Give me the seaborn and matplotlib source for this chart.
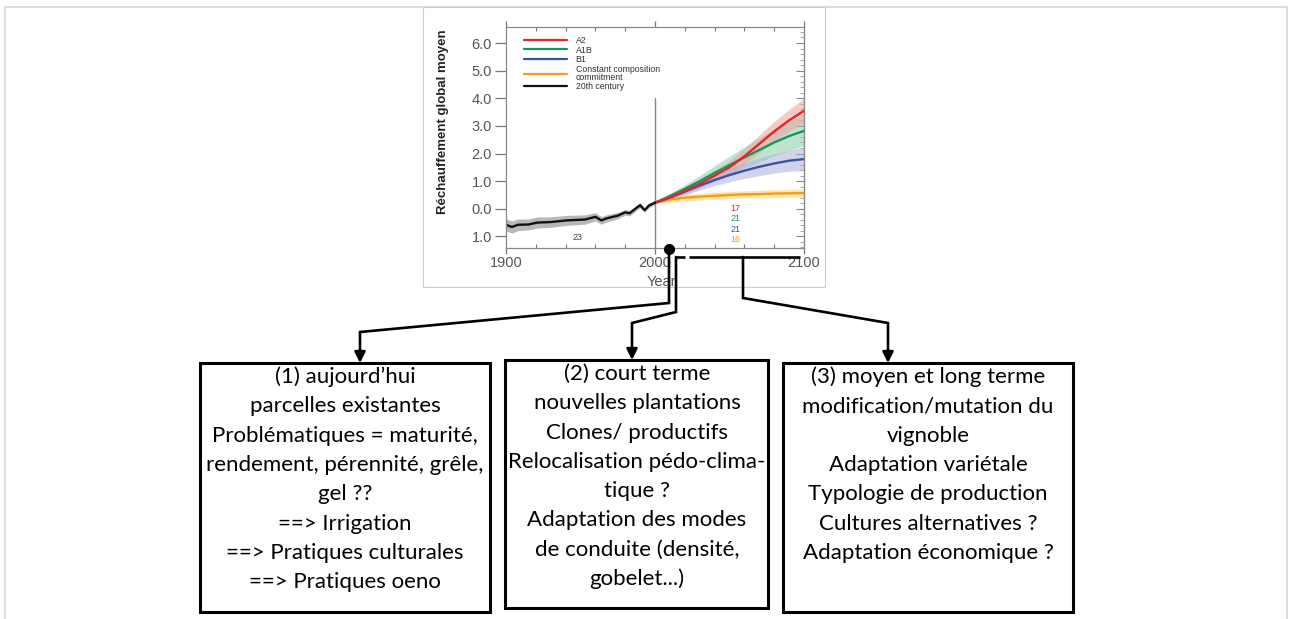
import numpy as np
import pandas as pd
import matplotlib
matplotlib.use("Agg")
import matplotlib.pyplot as plt
import seaborn as sns
from matplotlib.patches import Rectangle
from matplotlib.lines import Line2D
from matplotlib.ticker import FixedLocator, FixedFormatter, MultipleLocator

# ---------------- data ----------------
hist_years = [1900, 1904, 1908, 1915, 1921, 1930, 1941, 1953, 1960, 1964, 1968,
              1975, 1980, 1983, 1988, 1990, 1993, 1996, 2000]
hist_values = [-0.58, -0.66, -0.58, -0.57, -0.50, -0.48, -0.42, -0.39, -0.29, -0.42,
               -0.34, -0.25, -0.13, -0.16, 0.05, 0.13, -0.05, 0.12, 0.22]
hist_spread = [0.22, 0.22, 0.21, 0.2, 0.2, 0.19, 0.18, 0.17, 0.15, 0.14, 0.13,
               0.12, 0.1, 0.1, 0.09, 0.09, 0.08, 0.08, 0.07]

proj_years = [2000, 2010, 2020, 2030, 2040, 2050, 2060, 2070, 2080, 2090, 2100]
a2_values = [0.22, 0.42, 0.65, 0.90, 1.20, 1.50, 1.90, 2.35, 2.80, 3.20, 3.55]
a1b_values = [0.22, 0.46, 0.72, 1.00, 1.30, 1.58, 1.86, 2.13, 2.40, 2.63, 2.82]
b1_values = [0.22, 0.40, 0.62, 0.84, 1.04, 1.22, 1.38, 1.52, 1.64, 1.74, 1.80]
cc_values = [0.22, 0.33, 0.40, 0.44, 0.47, 0.50, 0.52, 0.53, 0.55, 0.56, 0.57]
a2_spread = [0.02, 0.08, 0.12, 0.16, 0.2, 0.24, 0.28, 0.32, 0.36, 0.40, 0.45]
a1b_spread = [0.02, 0.1, 0.15, 0.2, 0.26, 0.32, 0.38, 0.44, 0.48, 0.52, 0.55]
b1_spread = [0.02, 0.08, 0.12, 0.16, 0.2, 0.24, 0.28, 0.32, 0.35, 0.38, 0.42]
cc_spread = [0.02, 0.1, 0.12, 0.12, 0.13, 0.13, 0.13, 0.14, 0.14, 0.14, 0.15]

series_names = ["A2", "A1B", "B1", "Constant composition\ncommitment", "20th century"]
series_colors = ["#e4252a", "#14975f", "#3b52a3", "#f39a1f", "#111111"]
band_colors = ["#f2a09c", "#86cfa8", "#aeb0d9", "#f8d56a", "#9a9a9a"]
model_counts = ["17", "21", "21", "16"]
hist_count = "23"

ytick_values = [-1, 0, 1, 2, 3, 4, 5, 6]
ytick_labels = ["1.0", "0.0", "1.0", "2.0", "3.0", "4.0", "5.0", "6.0"]
xtick_values = [1900, 2000, 2100]
xtick_labels = ["1900", "2000", "2100"]
y_label = "Réchauffement global moyen"
x_label = "Year"

box1_lines = ["(1) aujourd’hui", "parcelles existantes", "Problématiques = maturité,",
              "rendement, pérennité, grêle,", "gel ??", "==> Irrigation",
              "==> Pratiques culturales", "==> Pratiques oeno"]
box2_lines = ["(2) court terme", "nouvelles plantations", "Clones/ productifs",
              "Relocalisation pédo-clima-", "tique ?", "Adaptation des modes",
              "de conduite (densité,", "gobelet...)"]
box3_lines = ["(3) moyen et long terme", "modification/mutation du", "vignoble",
              "Adaptation variétale", "Typologie de production", "Cultures alternatives ?",
              "Adaptation économique ?"]

# ---------------- figure ----------------
sns.set_style("white")
plt.rcParams["font.family"] = ["Liberation Sans", "DejaVu Sans"]

W, H = 1290, 619
fig = plt.figure(figsize=(W / 100, H / 100), dpi=100)

def frac(x0, y0, x1, y1):
    return [x0 / W, 1 - y1 / H, (x1 - x0) / W, (y1 - y0) / H]

ax = fig.add_axes(frac(506, 27, 804, 248))

rows = []
proj_sets = [a2_values, a1b_values, b1_values, cc_values]
for name, vals in zip(series_names[:4], proj_sets):
    for yr, v in zip(proj_years, vals):
        rows.append({"year": yr, "value": v, "series": name})
for yr, v in zip(hist_years, hist_values):
    rows.append({"year": yr, "value": v, "series": series_names[4]})
df = pd.DataFrame(rows)

# bands
spreads = [a2_spread, a1b_spread, b1_spread, cc_spread]
for i in [1, 0, 2, 3]:
    v = np.array(proj_sets[i]); s = np.array(spreads[i])
    ax.fill_between(proj_years, v - s, v + s, color=band_colors[i], alpha=0.55, lw=0)
hv = np.array(hist_values); hs = np.array(hist_spread)
ax.fill_between(hist_years, hv - hs, hv + hs, color=band_colors[4], alpha=0.7, lw=0)

palette = dict(zip(series_names, series_colors))
sns.lineplot(data=df, x="year", y="value", hue="series",
             hue_order=[series_names[i] for i in [3, 2, 1, 0, 4]],
             palette=palette, estimator=None, linewidth=1.7, legend=False, ax=ax)

ax.set_xlim(1900, 2100)
ax.set_ylim(-1.42, 6.58)
ax.plot([2000, 2000], [-1.42, 4.0], color="#888888", lw=1.0, zorder=1)

# counts
for txt, col, yv in zip(model_counts, series_colors[:4], [0.0, -0.37, -0.76, -1.1]):
    ax.text(2054, yv, txt, color=col, fontsize=6.5, ha="center", va="center")
ax.text(1948, -1.05, hist_count, color="#444444", fontsize=6.5, ha="center", va="center")

# axes styling
for sp in ax.spines.values():
    sp.set_color("#888888"); sp.set_linewidth(0.9)
ax.yaxis.set_major_locator(FixedLocator(ytick_values))
ax.yaxis.set_major_formatter(FixedFormatter(ytick_labels))
ax.xaxis.set_major_locator(FixedLocator(xtick_values))
ax.xaxis.set_major_formatter(FixedFormatter(xtick_labels))
ax.xaxis.set_minor_locator(MultipleLocator(20))
ax.tick_params(axis="y", which="major", left=True, right=False, direction="out", length=8,
               width=0.9, color="#777777", labelsize=10.5, labelcolor="#555555", pad=2)
ax.tick_params(axis="x", which="major", bottom=True, top=True, direction="out", length=4,
               width=0.9, color="#777777", labelsize=10.5, labelcolor="#555555", pad=2)
ax.tick_params(axis="x", which="minor", bottom=True, top=True, direction="in", length=3,
               width=0.8, color="#777777")
axr = ax.secondary_yaxis("right")
axr.yaxis.set_major_locator(FixedLocator(ytick_values))
axr.yaxis.set_minor_locator(MultipleLocator(0.2))
axr.tick_params(which="major", direction="in", length=6, width=0.8, color="#888888", labelright=False)
axr.tick_params(which="minor", direction="in", length=3, width=0.6, color="#999999")
axr.spines["right"].set_color("#888888")

ax.set_ylabel(y_label, fontsize=9.5, fontweight="bold", color="#222222")
ax.yaxis.set_label_coords(-0.19, 0.57)
ax.set_xlabel(x_label, fontsize=10.5, color="#555555", labelpad=0)
ax.xaxis.set_label_coords(0.52, -0.12)

handles = [Line2D([0], [0], color=c, lw=1.6) for c in series_colors]
leg = ax.legend(handles, series_names, loc="upper left", bbox_to_anchor=(0.06, 0.96),
                frameon=False, fontsize=6.3, handlelength=4.9, handletextpad=1.0,
                labelspacing=0.08, borderpad=0, borderaxespad=0)
for t in leg.get_texts():
    t.set_color("#333333"); t.set_linespacing(0.8)

# ---------------- overlay diagram ----------------
ov = fig.add_axes([0, 0, 1, 1], zorder=5)
ov.set_xlim(0, W); ov.set_ylim(H, 0); ov.axis("off"); ov.patch.set_alpha(0)

ov.add_patch(Rectangle((5, 7), 1282, 640, fill=False, ec="#d6d6d6", lw=1.2))
ov.add_patch(Rectangle((423, 7), 402, 280, fill=False, ec="#cccccc", lw=0.8))

lw = 1.9
def poly(pts, arrow=True):
    xs = [p[0] for p in pts]; ys = [p[1] for p in pts]
    if arrow:
        ov.plot(xs[:-1], ys[:-1], color="black", lw=lw, solid_joinstyle="miter")
        ov.annotate("", xy=pts[-1], xytext=pts[-2],
                    arrowprops=dict(arrowstyle="-|>", lw=lw, color="black",
                                    mutation_scale=16, shrinkA=0, shrinkB=0))
    else:
        ov.plot(xs, ys, color="black", lw=lw, solid_capstyle="butt")

poly([(669, 249), (669, 303), (360, 332), (360, 363)])
poly([(676, 257), (676, 312), (632, 323), (632, 360)])
poly([(743, 257), (743, 298), (888, 323), (888, 363)])
poly([(676, 257), (685, 257)], arrow=False)
poly([(689, 257), (800, 257)], arrow=False)
ov.plot([669], [249], "o", color="black", ms=7)

boxes = [((200, 363), 290, 249, box1_lines, 345, 377),
         ((505, 360), 263, 248, box2_lines, 637, 374),
         ((783, 363), 290, 249, box3_lines, 928, 377)]
for (xy, w, h, lines, cx, y0) in boxes:
    ov.add_patch(Rectangle(xy, w, h, fill=False, ec="black", lw=2.2))
    for i, line in enumerate(lines):
        ov.text(cx, y0 + 29.3 * i, line, ha="center", va="center", fontsize=16,
                family=["Lato", "DejaVu Sans"], color="black")

fig.savefig("out.png", dpi=100)
